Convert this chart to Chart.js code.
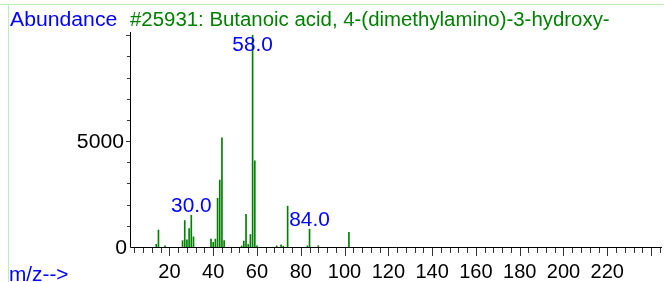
<!DOCTYPE html>
<html>
<head>
<meta charset="utf-8">
<script src="https://cdn.jsdelivr.net/npm/chart.js@4"></script>
<style>
  html, body { margin: 0; padding: 0; background: #fff; }
  canvas { display: block; }
</style>
</head>
<body>
<canvas id="spec" width="664" height="282"></canvas>
<script>
// m/z values and abundances
var mz    = [14, 15, 18, 26, 27, 28, 29, 30, 31, 39, 40, 41, 42, 43, 44, 45, 53, 54, 55, 56, 57, 58, 59, 60, 69, 71, 72, 74, 83, 84, 88, 102];
var abund = [130, 800, 50, 300, 1250, 340, 870, 1500, 480, 370, 220, 370, 2300, 3160, 5150, 300, 50, 280, 1540, 120, 590, 10000, 4070, 60, 50, 100, 40, 1930, 50, 840, 60, 690];
var labelled = [30, 58, 84];
var xLabels = [20, 40, 60, 80, 100, 120, 140, 160, 180, 200, 220];
var yLabels = [0, 5000];
var title = '#25931: Butanoic acid, 4-(dimethylamino)-3-hydroxy-';

var FONT = '20px "Liberation Sans", Arial, sans-serif';
var BLUE = '#0000ff';
var GREEN = '#008000';

var points = mz.map(function (m, i) { return { x: m, y: abund[i] }; });

// stretched text, the reference lettering is a little wider than plain Arial
function wideText(c, s, x, y, k) {
    c.save();
    c.translate(x, y);
    c.scale(k, 1);
    c.fillText(s, 0, 0);
    c.restore();
}

var decor = {
    id: 'decor',
    afterDraw: function (chart) {
        var c = chart.ctx;
        var xs = chart.scales.x, ys = chart.scales.y;
        var a = chart.chartArea;
        c.save();

        // light green frame
        c.strokeStyle = '#b8f0b8';
        c.lineWidth = 1;
        c.beginPath();
        c.moveTo(0, 4.5); c.lineTo(664, 4.5);
        c.moveTo(8.5, 4); c.lineTo(8.5, 282);
        c.stroke();

        // axes
        c.strokeStyle = '#000';
        c.beginPath();
        c.moveTo(a.left + 0.5, a.top); c.lineTo(a.left + 0.5, a.bottom + 0.5);
        c.lineTo(a.right, a.bottom + 0.5);
        c.stroke();

        // x ticks
        c.strokeStyle = '#333';
        c.beginPath();
        for (var v = 4; v <= 244; v += 4) {
            var px = Math.round(xs.getPixelForValue(v)) + 0.5;
            var len = v % 20 === 0 ? 8 : 5;
            c.moveTo(px, a.bottom + 1); c.lineTo(px, a.bottom + 1 + len);
        }
        // y ticks
        for (var t = 1000; t <= 10000; t += 1000) {
            var py = Math.round(ys.getPixelForValue(t)) + 0.5;
            var l = t % 5000 === 0 ? 4 : 3;
            c.moveTo(a.left, py); c.lineTo(a.left - l, py);
        }
        c.stroke();

        c.font = FONT;
        c.fillStyle = '#000';
        c.textAlign = 'center';
        c.textBaseline = 'alphabetic';
        xLabels.forEach(function (v) {
            c.fillText(String(v), xs.getPixelForValue(v), 278);
        });
        c.textAlign = 'right';
        yLabels.forEach(function (v) {
            wideText(c, String(v), v === 0 ? a.left - 3 : a.left - 6, ys.getPixelForValue(v) + 7, 1.06);
        });

        // peak labels
        c.fillStyle = BLUE;
        c.textAlign = 'center';
        labelled.forEach(function (m) {
            var i = mz.indexOf(m);
            var top = ys.getPixelForValue(abund[i]);
            var y = Math.max(top - 3, a.top + 19);
            wideText(c, m.toFixed(1), xs.getPixelForValue(m), y, 1.04);
        });

        // headings
        c.textAlign = 'left';
        wideText(c, 'Abundance', 10, 26, 1.06);
        wideText(c, 'm/z-->', 9, 281, 1.04);
        c.fillStyle = GREEN;
        wideText(c, title, 130, 26, 1.02);

        c.restore();
    }
};

new Chart(document.getElementById('spec'), {
    type: 'bar',
    data: {
        datasets: [{
            data: points,
            backgroundColor: GREEN,
            borderWidth: 0,
            barThickness: 1
        }]
    },
    options: {
        responsive: false,
        animation: false,
        layout: { padding: { left: 130, top: 32, right: 2, bottom: 35 } },
        plugins: { legend: { display: false }, tooltip: { enabled: false } },
        scales: {
            x: { type: 'linear', min: 2, max: 245, offset: false, display: false },
            y: { min: 0, max: 10150, display: false }
        }
    },
    plugins: [decor]
});
</script>
</body>
</html>
